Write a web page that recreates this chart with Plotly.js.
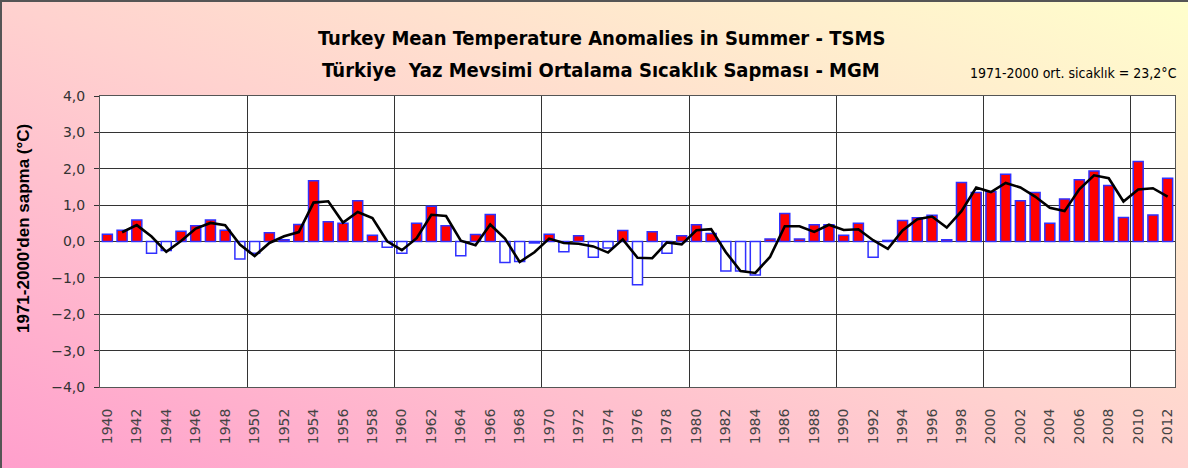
<!DOCTYPE html>
<html>
<head>
<meta charset="utf-8">
<script src="https://cdn.plot.ly/plotly-3.0.1.min.js"></script>
<style>
  html, body { margin: 0; padding: 0; width: 1188px; height: 468px; overflow: hidden; }
  body { background: linear-gradient(to top right, #ff9fcc 0%, #ffd2cf 50%, #ffffcc 100%); }
  #chart { position: absolute; left: 0; top: 0; width: 1188px; height: 468px; }
  #frame { position: absolute; left: 0; top: 0; width: 1188px; height: 468px; box-sizing: border-box;
           border-top: 2px solid #555; border-left: 2px solid #555; pointer-events: none; }
</style>
</head>
<body>
<div id="chart"></div>
<div id="frame"></div>
<script>
// ---- data ----
const years = [1940,1941,1942,1943,1944,1945,1946,1947,1948,1949,
               1950,1951,1952,1953,1954,1955,1956,1957,1958,1959,
               1960,1961,1962,1963,1964,1965,1966,1967,1968,1969,
               1970,1971,1972,1973,1974,1975,1976,1977,1978,1979,
               1980,1981,1982,1983,1984,1985,1986,1987,1988,1989,
               1990,1991,1992,1993,1994,1995,1996,1997,1998,1999,
               2000,2001,2002,2003,2004,2005,2006,2007,2008,2009,
               2010,2011,2012];
const anomalies = [0.20,0.31,0.59,-0.32,-0.25,0.28,0.43,0.59,0.31,-0.48,
                   -0.32,0.24,0.05,0.47,1.67,0.54,0.50,1.12,0.17,-0.16,
                   -0.32,0.50,0.97,0.43,-0.39,0.19,0.74,-0.58,-0.55,-0.04,
                   0.20,-0.28,0.16,-0.43,-0.18,0.30,-1.19,0.27,-0.32,0.16,
                   0.46,0.22,-0.81,-0.81,-0.92,0.07,0.77,0.07,0.46,0.46,
                   0.17,0.50,-0.43,0.03,0.58,0.65,0.72,0.05,1.62,1.35,
                   1.37,1.85,1.12,1.35,0.50,1.17,1.70,1.94,1.54,0.66,
                   2.20,0.73,1.74];
const xTickVals = [1940,1942,1944,1946,1948,1950,1952,1954,1956,1958,
                   1960,1962,1964,1966,1968,1970,1972,1974,1976,1978,
                   1980,1982,1984,1986,1988,1990,1992,1994,1996,1998,
                   2000,2002,2004,2006,2008,2010,2012];
const xTickLabels = xTickVals.map(String);
const decadeBoundaries = [1949.5,1959.5,1969.5,1979.5,1989.5,1999.5,2009.5];
const yTickVals = [-4,-3,-2,-1,0,1,2,3,4];

const titleLine1 = 'Turkey Mean Temperature Anomalies in Summer - TSMS';
const titleLine2 = 'Türkiye  Yaz Mevsimi Ortalama Sıcaklık Sapması - MGM';
const subTitle = '1971-2000 ort. sicaklık = 23,2°C';
const yTitle = "1971-2000'den sapma (°C)";

// Excel-style 2-period moving average trendline of the bars
const maYears = years.slice(1);
const maValues = anomalies.slice(1).map((v, i) => (v + anomalies[i]) / 2);

const narrow = '"DejaVu Sans Condensed", "Liberation Sans Narrow", "Arial Narrow", sans-serif';
const sans = '"Liberation Sans", Arial, sans-serif';
const wide = '"DejaVu Sans", "Liberation Sans", Arial, sans-serif';

const bars = {
  type: 'bar', x: years, y: anomalies, width: 0.68,
  marker: { color: anomalies.map(v => v >= 0 ? '#ff0000' : '#ffffff'),
            line: { color: '#3030ff', width: 1.5 } },
  hoverinfo: 'skip'
};
const trend = {
  type: 'scatter', mode: 'lines', x: maYears, y: maValues, xaxis: 'x2',
  line: { color: '#000000', width: 2.6 }, hoverinfo: 'skip'
};

const L = 100, R = 1175, T = 96, B = 387;
const px = v => (v - L) / (R - L);
const py = v => (B - v) / (B - T);

const layout = {
  width: 1188, height: 468,
  margin: { l: L, r: 1188 - R, t: T, b: 468 - B, pad: 0 },
  paper_bgcolor: 'rgba(0,0,0,0)', plot_bgcolor: '#ffffff',
  showlegend: false, separators: ', ', bargap: 0,
  font: { family: sans, size: 13, color: '#333333' },
  xaxis: {
    range: [1939.5, 2012.5], tickmode: 'array', tickvals: xTickVals, ticktext: xTickLabels,
    tickangle: -90, showgrid: false, zeroline: false,
    showline: true, mirror: true, linecolor: '#555555', linewidth: 1,
    ticks: '', ticklabelstandoff: 15,
    tickfont: { family: wide, size: 14, color: '#444444' }
  },
  xaxis2: {
    range: [1939.5, 2012.5], overlaying: 'x', anchor: 'y', side: 'bottom',
    tickmode: 'array', tickvals: decadeBoundaries, showticklabels: false,
    showgrid: true, gridcolor: '#333333', gridwidth: 1, zeroline: false, ticks: '', showline: false
  },
  yaxis: {
    range: [-4, 4], tickmode: 'array', tickvals: yTickVals, tickformat: '.1f',
    showgrid: true, gridcolor: '#333333', gridwidth: 1,
    zeroline: true, zerolinecolor: '#333333', zerolinewidth: 1,
    showline: true, mirror: true, linecolor: '#555555', linewidth: 1,
    ticks: 'outside', ticklen: 5, tickcolor: '#333333', ticklabelstandoff: 6,
    tickfont: { family: wide, size: 14, color: '#333333' }
  },
  annotations: [
    { text: '<b>' + titleLine1 + '</b>', xref: 'paper', yref: 'paper', x: px(601), y: py(38),
      xanchor: 'center', yanchor: 'middle', showarrow: false,
      font: { family: narrow, size: 20, color: '#000000' } },
    { text: '<b>' + titleLine2 + '</b>', xref: 'paper', yref: 'paper', x: px(601), y: py(70),
      xanchor: 'center', yanchor: 'middle', showarrow: false,
      font: { family: narrow, size: 20, color: '#000000' } },
    { text: subTitle, xref: 'paper', yref: 'paper', x: px(1179), y: py(73),
      xanchor: 'right', yanchor: 'middle', showarrow: false,
      font: { family: narrow, size: 14, color: '#000000' } },
    { text: '<b>' + yTitle + '</b>', xref: 'paper', yref: 'paper', x: px(23), y: py(229),
      xanchor: 'center', yanchor: 'middle', textangle: -90, showarrow: false,
      font: { family: sans, size: 17, color: '#000000' } }
  ]
};

Plotly.newPlot('chart', [bars, trend], layout, { displayModeBar: false, staticPlot: true });
</script>
</body>
</html>
